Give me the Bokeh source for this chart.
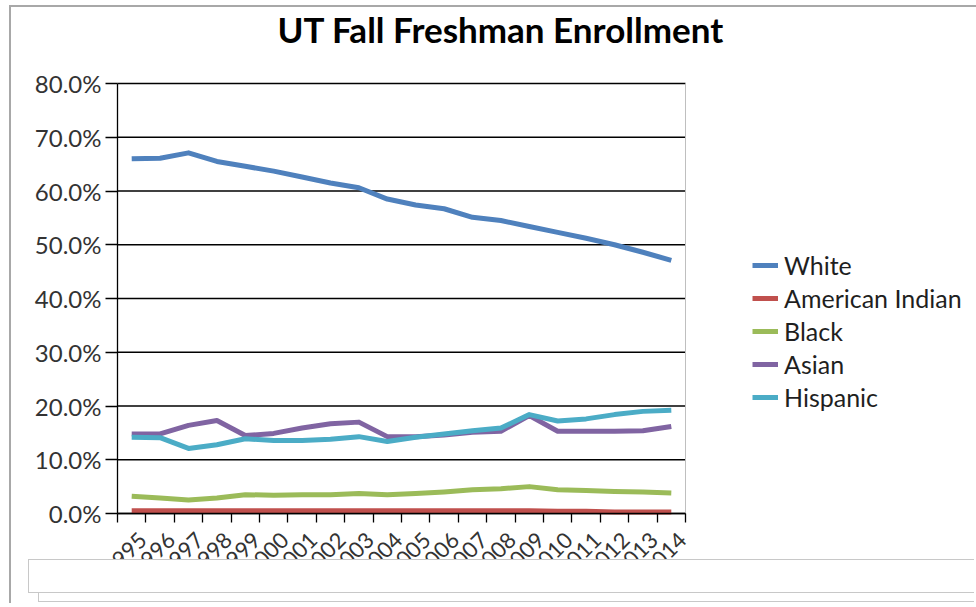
import numpy as np
from bokeh.plotting import figure
from bokeh.layouts import column
from bokeh.models import (ColumnDataSource, Legend, LegendItem, FixedTicker,
                          NumeralTickFormatter, Range1d, Div, Label)
from bokeh.embed import file_html
from bokeh.resources import INLINE

years = ["1995", "1996", "1997", "1998", "1999", "2000", "2001", "2002", "2003", "2004",
         "2005", "2006", "2007", "2008", "2009", "2010", "2011", "2012", "2013", "2014"]
white = [66.0, 66.1, 67.1, 65.5, 64.6, 63.7, 62.6, 61.5, 60.6, 58.5,
         57.4, 56.7, 55.1, 54.5, 53.4, 52.3, 51.2, 50.0, 48.6, 47.1]
american_indian = [0.5, 0.5, 0.5, 0.5, 0.5, 0.5, 0.5, 0.5, 0.5, 0.5,
                   0.5, 0.5, 0.5, 0.5, 0.5, 0.4, 0.4, 0.3, 0.3, 0.3]
black = [3.2, 2.9, 2.5, 2.9, 3.5, 3.4, 3.5, 3.5, 3.7, 3.5,
         3.7, 4.0, 4.4, 4.6, 5.0, 4.4, 4.3, 4.1, 4.0, 3.8]
asian = [14.8, 14.8, 16.4, 17.3, 14.5, 14.9, 15.9, 16.7, 17.0, 14.3,
         14.3, 14.6, 15.1, 15.3, 18.2, 15.3, 15.3, 15.3, 15.4, 16.2]
hispanic = [14.2, 14.1, 12.1, 12.8, 13.9, 13.6, 13.6, 13.8, 14.3, 13.4,
            14.2, 14.8, 15.4, 15.9, 18.4, 17.2, 17.6, 18.4, 19.0, 19.2]
series_names = ["White", "American Indian", "Black", "Asian", "Hispanic"]
series_values = [white, american_indian, black, asian, hispanic]
colors = ["#4F81BD", "#C0504D", "#9BBB59", "#8064A2", "#4BACC6"]
y_ticks = [0.0, 0.1, 0.2, 0.3, 0.4, 0.5, 0.6, 0.7, 0.8]
title_text = "UT Fall Freshman Enrollment"

n = len(years)
xs = list(range(n))
x_lo, x_hi = -0.5, n - 0.5
y_lo, y_hi = y_ticks[0], y_ticks[-1]

# canvas origin on the page: (11, 7); plot area edges in canvas px
W, H = 963, 598
PL, PR, PT, PB = 106, 674, 76, 506
sx = (PR - PL) / (x_hi - x_lo)
sy = (PB - PT) / (y_hi - y_lo)

def px_to_x(px):
    return x_lo + (px - PL) / sx

def py_to_y(py):
    return y_lo + (PB - py) / sy

src = ColumnDataSource(dict(x=xs, **{f"s{i}": [v / 100 for v in vals] for i, vals in enumerate(series_values)}))

# the frame fills the whole canvas; axes are pinned to the plot area
p = figure(width=W, height=H, output_backend="svg", toolbar_location=None,
           x_range=Range1d(px_to_x(0), px_to_x(W)), y_range=Range1d(py_to_y(H), py_to_y(0)),
           min_border=0)
p.background_fill_color = "white"
p.border_fill_color = "white"
p.outline_line_color = None
p.xgrid.visible = False
p.ygrid.visible = False

# horizontal gridlines and right edge of the plot area
p.segment(x0=x_lo, x1=x_hi, y0=y_ticks, y1=y_ticks, line_color="black", line_width=1.3)
p.segment(x0=[x_hi], x1=[x_hi], y0=[y_lo], y1=[y_hi], line_color="#BFBFBF", line_width=1)

renderers = []
for i, col in enumerate(colors):
    r = p.line("x", f"s{i}", source=src, line_color=col, line_width=5, line_join="round")
    renderers.append(r)

yax = p.yaxis[0]
yax.fixed_location = x_lo
yax.bounds = (y_lo, y_hi)
yax.ticker = FixedTicker(ticks=y_ticks)
yax.formatter = NumeralTickFormatter(format="0.0%")
yax.major_label_overrides = {0: "\u20070.0%"}
yax.major_label_text_font = "Lato"
yax.major_label_text_font_size = "24px"
yax.major_label_text_color = "#333333"
yax.major_tick_out = 12
yax.major_tick_in = 0
yax.minor_tick_out = 0
yax.minor_tick_in = 0
yax.major_label_standoff = 4
yax.axis_line_color = "black"
yax.axis_line_width = 1.3
yax.major_tick_line_color = "black"
yax.major_tick_line_width = 1.3

# category labels sit slightly right of each category centre (rotated text)
label_shift = 0.4
label_pos = [round(i + label_shift, 2) for i in xs]
xax = p.xaxis[0]
xax.fixed_location = y_lo
xax.bounds = (x_lo, x_hi)
xax.ticker = FixedTicker(ticks=label_pos, minor_ticks=[i - 0.5 for i in range(n + 1)])
xax.major_label_overrides = {pos: y for pos, y in zip(label_pos, years)}
xax.major_label_orientation = np.pi / 4
xax.major_label_text_font = "Lato"
xax.major_label_text_font_size = "22px"
xax.major_label_text_color = "#333333"
xax.major_tick_out = 0
xax.major_tick_in = 0
xax.minor_tick_out = 9
xax.minor_tick_in = 0
xax.minor_tick_line_color = "black"
xax.minor_tick_line_width = 1.3
xax.major_label_standoff = 14
xax.axis_line_color = "black"
xax.axis_line_width = 1.3

# title
p.add_layout(Label(x=px_to_x(266), y=py_to_y(21), text=title_text, text_font="Lato",
                   text_font_style="bold", text_font_size="35px", text_color="black",
                   text_align="left", text_baseline="alphabetic"))

# legend
items = [LegendItem(label=nm, renderers=[r]) for nm, r in zip(series_names, renderers)]
legend = Legend(items=items, location=(741, H - 405))
legend.label_text_font = "Lato"
legend.label_text_font_size = "25px"
legend.label_text_color = "#1F1F1F"
legend.glyph_width = 26
legend.glyph_height = 30
legend.label_height = 30
legend.spacing = 3
legend.padding = 0
legend.margin = 0
legend.label_standoff = 6
legend.border_line_color = None
legend.background_fill_alpha = 0
p.add_layout(legend)

# caption box overlapping the bottom of the chart (decoration)
box_html = (
    '<div style="position:absolute;left:10px;top:9px;width:936px;height:34px;'
    'border:1px solid #C8C8C8;border-right:none;background:white"></div>'
    '<div style="position:absolute;left:0px;top:0px;width:946px;height:34px;'
    'border:1px solid #C8C8C8;border-right:none;background:white"></div>'
)
box = Div(text=box_html, width=948, height=44, margin=(-46, 0, 0, 17),
          styles={"z-index": "10", "position": "relative"})

layout = column(p, box, spacing=0, margin=(5, 0, 0, 9),
                styles={"border-left": "2px solid #A8A8A8", "border-top": "2px solid #A8A8A8"})

open("out.html", "w").write(file_html(layout, INLINE))
